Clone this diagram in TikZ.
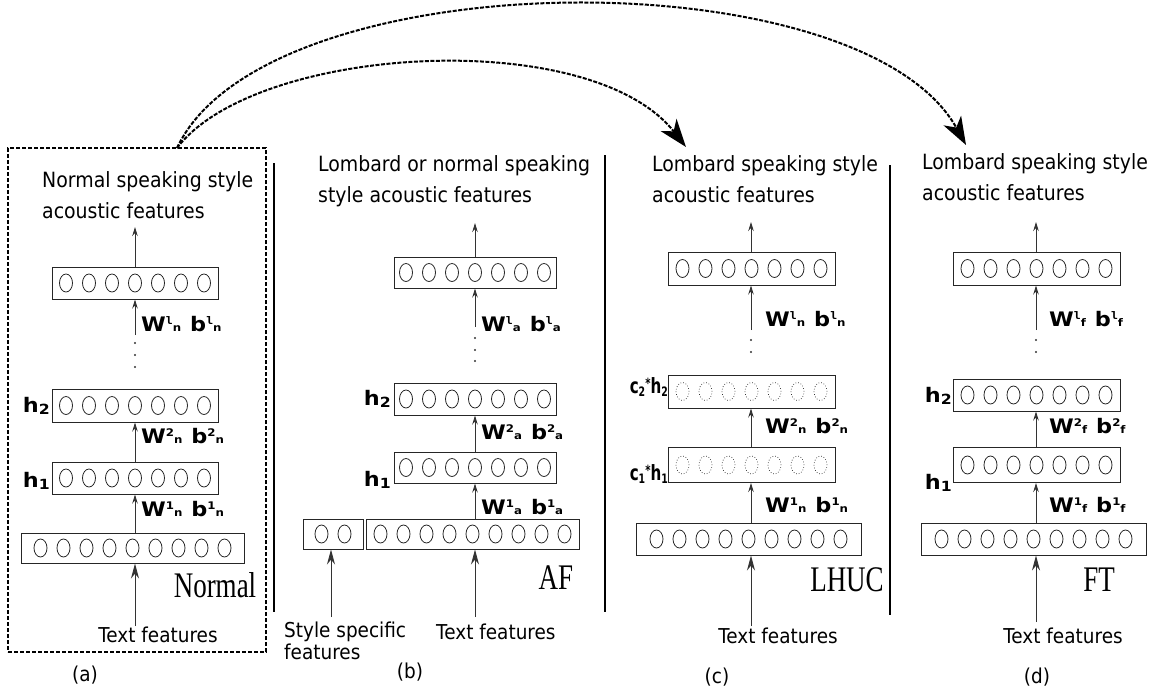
\documentclass[tikz,border=0pt]{standalone}
\usepackage{fontspec}
\setmainfont{DejaVu Sans}[FakeStretch=0.9]
\setmonofont{DejaVu Sans Mono}[FakeStretch=1.1]
\newfontfamily\labfont{DejaVu Sans}[FakeStretch=1.12]
\newfontfamily\lhucfont{DejaVu Sans}[FakeStretch=0.72]
\newfontfamily\sercond{Liberation Serif}[FakeStretch=0.75]
\usetikzlibrary{arrows.meta,calc}
\newcommand{\wb}[3]{{\labfont\bfseries\fontsize{20}{20}\selectfont W\raisebox{6.5pt}{\fontsize{10.5}{10.5}\selectfont #1}{\fontsize{10.5}{10.5}\selectfont #2}\hspace{9pt}b\raisebox{6.5pt}{\fontsize{10.5}{10.5}\selectfont #1}{\fontsize{10.5}{10.5}\selectfont #3}}}
\newcommand{\lsup}{{\ttfamily\bfseries l}}
\newcommand{\hlab}[1]{{\labfont\bfseries\fontsize{20}{20}\selectfont h\raisebox{-2.5pt}{\fontsize{14}{14}\selectfont #1}}}
\newcommand{\chlab}[1]{{\lhucfont\bfseries\fontsize{21}{21}\selectfont c\raisebox{-3pt}{\fontsize{13}{13}\selectfont #1}\raisebox{5pt}{\fontsize{14}{14}\selectfont *}h\raisebox{-3pt}{\fontsize{13}{13}\selectfont #1}}}
\newcommand{\layer}[7]{%
  \node[layerbox,minimum width=#4pt,minimum height=#5pt] (#1) at (#2,#3) {};
  \foreach \i in {1,...,#6} \draw[#7] ({#2+(\i-(#6+1)/2)*23},#3) ellipse [x radius=6.5pt, y radius=9pt];
}
\tikzset{
  layerbox/.style={draw=black!85,line width=1pt,inner sep=0pt,rectangle},
  circ/.style={draw=black!85,line width=0.8pt},
  dcirc/.style={draw=black!80,line width=0.7pt,dotted},
  lyarrow/.style={draw=black!80,line width=0.9pt,-{Stealth[length=9pt,width=5.5pt]}},
  inarrow/.style={draw=black!80,line width=0.9pt,-{Stealth[length=15pt,width=8pt]}},
  sepline/.style={line width=1.5pt},
  dbox/.style={line width=1.3pt,dash pattern=on 4pt off 2pt},
  bigarc/.style={line width=2pt,dash pattern=on 4pt off 1.5pt,-{Stealth[length=28pt,width=20pt,inset=8pt]}},
  title/.style={align=left,inner sep=0pt,anchor=north west,font=\fontsize{21}{31}\selectfont},
  bottom/.style={inner sep=0pt,font=\fontsize{20.5}{22}\selectfont},
  panelcap/.style={inner sep=0pt,font=\fontsize{20.5}{22}\selectfont},
  sername/.style={inner sep=0pt,font=\sercond\fontsize{36}{36}\selectfont},
  dotpt/.style={fill=black!80,circle,inner sep=0pt,minimum size=2.2pt},
  wlab/.style={inner sep=0pt,anchor=west},
  hl/.style={inner sep=0pt,anchor=east}
}
\begin{document}
\begin{tikzpicture}[x=1pt,y=-1pt]
\useasboundingbox (0,0) rectangle (1160,689);
% ---------- panel (a)
\node[draw,dbox,minimum width=258pt,minimum height=504pt,inner sep=0pt] (boxA) at (137,400) {};
\coordinate (arcS) at (177,148);
\draw[sepline] (274,163) coordinate (sA1) -- (274,612) coordinate (sA2);
\node[title] (tA) at (42,171.5) {Normal speaking style\\acoustic features};
\layer{outA}{135}{283}{166}{32}{7}{circ}
\layer{h2A}{135}{405.5}{166}{33}{7}{circ}
\layer{h1A}{135}{478}{166}{32}{7}{circ}
\layer{inA}{132.5}{548}{223}{30}{9}{circ}
\coordinate (topA) at (135,227);
\draw[lyarrow] (outA.north -| topA) -- (topA);
\coordinate (lA) at (135,335);
\draw[lyarrow] (lA) -- (outA.south -| lA);
\node[dotpt] (dA1) at (135,343) {};
\node[dotpt] (dA2) at (135,355) {};
\node[dotpt] (dA3) at (135,367) {};
\draw[lyarrow] (h1A.north -| lA) -- (h2A.south -| lA);
\draw[lyarrow] (inA.north -| lA) -- (h1A.south -| lA);
\node[wlab] (wAl) at (141,324) {\wb{\lsup}{n}{n}};
\node[wlab] (wA2) at (141,436) {\wb{2}{n}{n}};
\node[wlab] (wA1) at (141,509) {\wb{1}{n}{n}};
\node[hl] (hA2) at (50,406) {\hlab{2}};
\node[hl] (hA1) at (50,481) {\hlab{1}};
\node[bottom,anchor=base] (txA) at (158,642) {Text features};
\coordinate (iA) at (135,626);
\draw[inarrow] (iA) -- (inA.south -| iA);
\node[sername] (nmA) at (215,585) {Normal};
\node[panelcap] (capA) at (85,675) {(a)};
% ---------- panel (b)
\draw[sepline] (605,155) coordinate (sB1) -- (605,612) coordinate (sB2);
\node[title] (tB) at (318,155) {Lombard or normal speaking\\style acoustic features};
\layer{outB}{475}{272.5}{162}{31}{7}{circ}
\layer{h2B}{475}{399}{162}{32}{7}{circ}
\layer{h1B}{475}{467.5}{162}{31}{7}{circ}
\layer{stB}{333}{534}{60}{30}{2}{circ}
\layer{inB}{472.5}{534}{213}{30}{9}{circ}
\coordinate (topB) at (475,223);
\draw[lyarrow] (outB.north -| topB) -- (topB);
\coordinate (lB) at (475,327);
\draw[lyarrow] (lB) -- (outB.south -| lB);
\node[dotpt] (dB1) at (475,338) {};
\node[dotpt] (dB2) at (475,350) {};
\node[dotpt] (dB3) at (475,361) {};
\draw[lyarrow] (h1B.north -| lB) -- (h2B.south -| lB);
\draw[lyarrow] (inB.north -| lB) -- (h1B.south -| lB);
\node[wlab] (wBl) at (481,324) {\wb{\lsup}{a}{a}};
\node[wlab] (wB2) at (481,432) {\wb{2}{a}{a}};
\node[wlab] (wB1) at (481,507) {\wb{1}{a}{a}};
\node[hl] (hB2) at (391,399) {\hlab{2}};
\node[hl] (hB1) at (391,480) {\hlab{1}};
\coordinate (iBs) at (331,617);
\draw[inarrow] (iBs) -- (stB.south -| iBs);
\coordinate (iB) at (475,617);
\draw[inarrow] (iB) -- (inB.south -| iB);
\node[sername] (nmB) at (556,578) {AF};
\node[bottom,anchor=base west,align=left] (ssB) at (284,659) {Style specific\\features};
\node[bottom,anchor=base west] (txB) at (436,639) {Text features};
\node[panelcap] (capB) at (410,672) {(b)};
% ---------- panel (c)
\draw[sepline] (890,165) coordinate (sC1) -- (890,615) coordinate (sC2);
\node[title] (tC) at (652,155) {Lombard speaking style\\acoustic features};
\layer{outC}{751.5}{268.5}{167}{33}{7}{circ}
\layer{h2C}{751.5}{391.5}{167}{33}{7}{dcirc}
\layer{h1C}{751.5}{465}{167}{35}{7}{dcirc}
\layer{inC}{748.5}{539}{225}{32}{9}{circ}
\coordinate (topC) at (751,222);
\draw[lyarrow] (outC.north -| topC) -- (topC);
\coordinate (lC) at (751,330);
\draw[lyarrow] (lC) -- (outC.south -| lC);
\node[dotpt] (dC1) at (751,340) {};
\node[dotpt] (dC2) at (751,352) {};
\draw[lyarrow] (h1C.north -| lC) -- (h2C.south -| lC);
\draw[lyarrow] (inC.north -| lC) -- (h1C.south -| lC);
\node[wlab] (wCl) at (765,319) {\wb{\lsup}{n}{n}};
\node[wlab] (wC2) at (765,426) {\wb{2}{n}{n}};
\node[wlab] (wC1) at (765,505) {\wb{1}{n}{n}};
\node[hl] (hC2) at (668,387) {\chlab{2}};
\node[hl] (hC1) at (668,474) {\chlab{1}};
\coordinate (iC) at (751,626);
\draw[inarrow] (iC) -- (inC.south -| iC);
\node[sername] (nmC) at (847,580) {LHUC};
\node[bottom,anchor=base] (txC) at (778,643) {Text features};
\node[panelcap] (capC) at (717,677) {(c)};
% ---------- panel (d)
\node[title] (tD) at (922,153) {Lombard speaking style\\acoustic features};
\layer{outD}{1036.5}{268.5}{167}{33}{7}{circ}
\layer{h2D}{1036.5}{395}{167}{32}{7}{circ}
\layer{h1D}{1036.5}{465}{167}{35}{7}{circ}
\layer{inD}{1033.5}{539}{225}{32}{9}{circ}
\coordinate (topD) at (1036,222);
\draw[lyarrow] (outD.north -| topD) -- (topD);
\coordinate (lD) at (1036,330);
\draw[lyarrow] (lD) -- (outD.south -| lD);
\node[dotpt] (dD1) at (1036,340) {};
\node[dotpt] (dD2) at (1036,352) {};
\draw[lyarrow] (h1D.north -| lD) -- (h2D.south -| lD);
\draw[lyarrow] (inD.north -| lD) -- (h1D.south -| lD);
\node[wlab] (wDl) at (1049,319) {\wb{\lsup}{f}{f}};
\node[wlab] (wD2) at (1049,426) {\wb{2}{f}{f}};
\node[wlab] (wD1) at (1049,505) {\wb{1}{f}{f}};
\node[hl] (hD2) at (952,396) {\hlab{2}};
\node[hl] (hD1) at (952,483) {\hlab{1}};
\coordinate (iD) at (1036,622);
\draw[inarrow] (iD) -- (inD.south -| iD);
\node[sername] (nmD) at (1099,580) {FT};
\node[bottom,anchor=base] (txD) at (1063,643) {Text features};
\node[panelcap] (capD) at (1037,677) {(d)};
% ---------- transfer arcs
\coordinate (eC) at (686,147);
\coordinate (eD) at (966,145);
\draw[bigarc] (arcS) .. controls (255,45) and (590,25) .. (eC);
\draw[bigarc] (arcS) .. controls (265,-40) and (860,-45) .. (eD);
\end{tikzpicture}
\end{document}
